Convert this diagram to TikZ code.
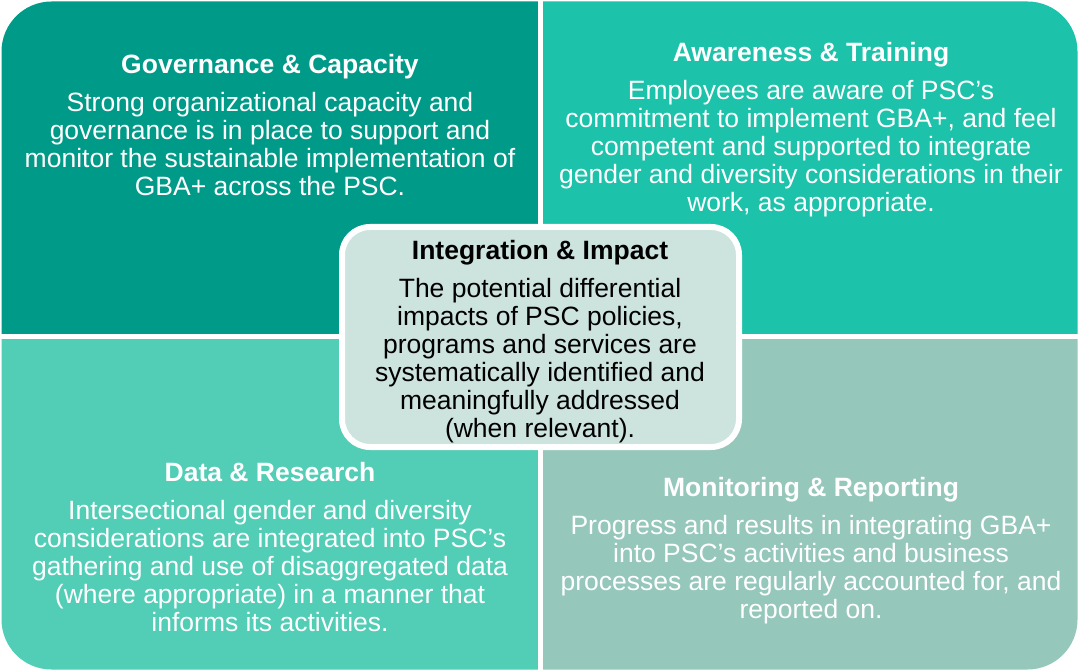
\documentclass[tikz,border=0pt]{standalone}
\usepackage{fontspec}
\setmainfont[Ligatures=NoCommon]{Liberation Sans}
\usepackage{tikz}
\usetikzlibrary{positioning}

\definecolor{govcol}{HTML}{009A88}
\definecolor{awacol}{HTML}{1CC2A9}
\definecolor{datcol}{HTML}{52CDB6}
\definecolor{moncol}{HTML}{95C7BB}
\definecolor{impcol}{HTML}{CCE3DE}

\begin{document}
\begin{tikzpicture}[x=1pt,y=-1pt,
    head/.style={font=\bfseries\fontsize{26.5}{28}\selectfont, text=white, inner sep=0pt, text height=19pt, text depth=6pt},
    body/.style={font=\fontsize{26.5}{28}\selectfont, text=white, align=center, inner sep=0pt}]
    \useasboundingbox (0,0) rectangle (1079,671);

    % four quadrants, outer corners rounded
    \begin{scope}
        \clip[rounded corners=50pt] (1.5,1.5) rectangle (1077.5,669.5);
        \fill[govcol] (0,0) rectangle (537.5,334);
        \fill[awacol] (542.5,0) rectangle (1079,334);
        \fill[datcol] (0,339) rectangle (537.5,671);
        \fill[moncol] (542.5,339) rectangle (1079,671);
    \end{scope}

    \node[head] (t_gov) at (270,67.5) {Governance \& Capacity};
    \node[body, below=12pt of t_gov] (b_gov) {Strong organizational capacity and\\ governance is in place to support and\\ monitor the sustainable implementation of\\ GBA+ across the PSC.};

    \node[head] (t_awa) at (811,55) {Awareness \& Training};
    \node[body, below=12pt of t_awa] (b_awa) {Employees are aware of PSC’s\\ commitment to implement GBA+, and feel\\ competent and supported to integrate\\ gender and diversity considerations in their\\ work, as appropriate.};

    \node[head] (t_dat) at (270,475) {Data \& Research};
    \node[body, below=12pt of t_dat] (b_dat) {Intersectional gender and diversity\\ considerations are integrated into PSC’s\\ gathering and use of disaggregated data\\ (where appropriate) in a manner that\\ informs its activities.};

    \node[head] (t_mon) at (811,490) {Monitoring \& Reporting};
    \node[body, below=12pt of t_mon] (b_mon) {Progress and results in integrating GBA+\\ into PSC’s activities and business\\ processes are regularly accounted for, and\\ reported on.};

    % centre box
    \node[draw=white, line width=6pt, fill=impcol, rounded corners=28pt, minimum width=397pt, minimum height=220pt] (impact) at (540.5,337) {};
    \node[head, text=black] (t_imp) at (540,253) {Integration \& Impact};
    \node[body, text=black, below=12pt of t_imp] (b_imp) {The potential differential\\ impacts of PSC policies,\\ programs and services are\\ systematically identified and\\ meaningfully addressed\\ (when relevant).};
\end{tikzpicture}
\end{document}
